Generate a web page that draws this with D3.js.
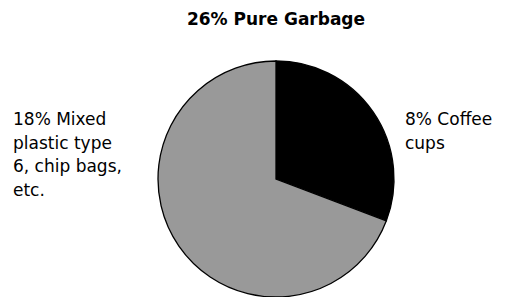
<!DOCTYPE html>
<html>
<head>
<meta charset="utf-8">
<script src="https://cdn.jsdelivr.net/npm/d3@7"></script>
<style>
  body { margin: 0; background: #fff; }
</style>
</head>
<body>
<div id="chart"></div>
<script>
const width = 509;
const height = 297;

// data
const title = "26% Pure Garbage";
const categories = ["Coffee cups", "Mixed plastic"];
const values = [8, 18];
const labelLines = [
  ["8% Coffee", "cups"],
  ["18% Mixed", "plastic type", "6, chip bags,", "etc."]
];
const colors = ["#000000", "#999999"];

const cx = 276, cy = 179, radius = 118;

const svg = d3.select("#chart").append("svg")
  .attr("width", width)
  .attr("height", height);

svg.append("text")
  .attr("x", cx)
  .attr("y", 25)
  .attr("text-anchor", "middle")
  .attr("font-family", "'DejaVu Sans', sans-serif")
  .attr("font-weight", "bold")
  .attr("font-size", "17px")
  .attr("fill", "#000")
  .text(title);

const pie = d3.pie().sort(null).value(d => d);
const arc = d3.arc().innerRadius(0).outerRadius(radius);

const g = svg.append("g")
  .attr("transform", "translate(" + cx + "," + cy + ")");

g.selectAll("path")
  .data(pie(values))
  .join("path")
    .attr("d", arc)
    .attr("fill", (d, i) => colors[i])
    .attr("stroke", "#000")
    .attr("stroke-width", 1.3);

// labels: right of the pie for the first slice, left for the second
const labelX = [cx + radius + 11, 13];
const labelFont = "'DejaVu Sans', Verdana, sans-serif";

labelLines.forEach(function(lines, i) {
  const t = svg.append("text")
    .attr("x", labelX[i])
    .attr("y", 125)
    .attr("font-family", labelFont)
    .attr("font-size", "17px")
    .attr("fill", "#000");
  lines.forEach(function(line, j) {
    t.append("tspan")
      .attr("x", labelX[i])
      .attr("dy", j === 0 ? 0 : 23.7)
      .text(line);
  });
});
</script>
</body>
</html>
